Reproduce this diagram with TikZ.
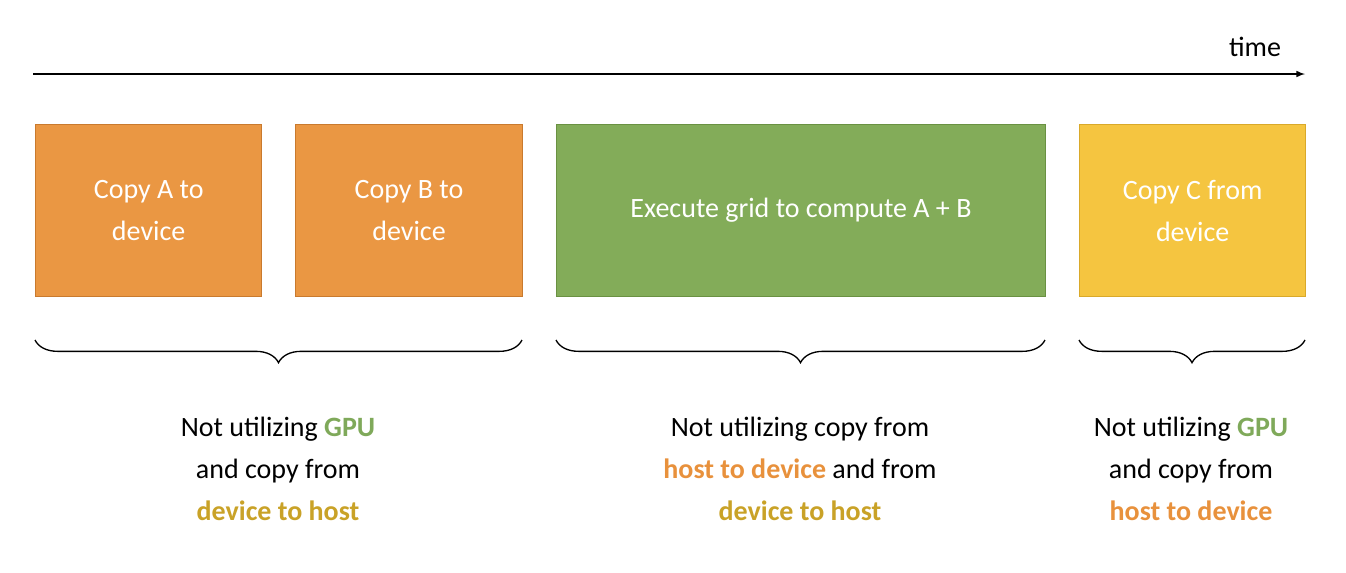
\documentclass[tikz,border=0pt]{standalone}
\usepackage{fontspec}
\setmainfont{Carlito}
\usetikzlibrary{decorations.pathreplacing}
\definecolor{orb}{HTML}{EA9743}
\definecolor{orbd}{HTML}{C97A2E}
\definecolor{grb}{HTML}{83AC59}
\definecolor{grbd}{HTML}{6A9142}
\definecolor{yeb}{HTML}{F5C540}
\definecolor{yebd}{HTML}{D9A92A}
\definecolor{tgreen}{HTML}{7FA95A}
\definecolor{torange}{HTML}{E8913C}
\definecolor{tyellow}{HTML}{C9A227}
\begin{document}
\begin{tikzpicture}[x=0.75pt,y=-0.75pt,
  box/.style={draw=#1,line width=1pt,text=white,font=\fontsize{21}{31.5}\selectfont,align=center,anchor=north west},
  lbl/.style={font=\fontsize{21}{31.5}\selectfont,align=center,anchor=north},
  br/.style={decorate,decoration={brace,mirror,amplitude=17pt,aspect=0.5},line width=1pt}]
\useasboundingbox (0,0) rectangle (1346,572);
\coordinate (t0) at (33,74);
\coordinate (t1) at (1305,74);
\draw[-latex,line width=1.2pt] (t0) -- (t1);
\node[font=\fontsize{21}{25}\selectfont,anchor=base] (time) at (1255,56) {time};
\node[box=orbd,fill=orb,minimum width=169.5pt,minimum height=129pt] (a) at (35,124) {Copy A to\\device};
\node[box=orbd,fill=orb,minimum width=170pt,minimum height=129pt] (b) at (295,124) {Copy B to\\device};
\node[box=grbd,fill=grb,minimum width=366.5pt,minimum height=129pt] (e) at (556,124) {Execute grid to compute A + B};
\node[box=yebd,fill=yeb,minimum width=169.5pt,minimum height=129pt] (c) at (1079,124) {Copy C from\\device};
\coordinate (b1s) at (35,340); \coordinate (b1e) at (522,340);
\coordinate (b2s) at (556,340); \coordinate (b2e) at (1045,340);
\coordinate (b3s) at (1079,340); \coordinate (b3e) at (1305,340);
\draw[br] (b1s) -- (b1e);
\draw[br] (b2s) -- (b2e);
\draw[br] (b3s) -- (b3e);
\node[lbl] (l1) at (278,412) {Not utilizing \textbf{\textcolor{tgreen}{GPU}}\\and copy from\\\textbf{\textcolor{tyellow}{device to host}}};
\node[lbl] (l2) at (800,412) {Not utilizing copy from\\\textbf{\textcolor{torange}{host to device}} and from\\\textbf{\textcolor{tyellow}{device to host}}};
\node[lbl] (l3) at (1191,412) {Not utilizing \textbf{\textcolor{tgreen}{GPU}}\\and copy from\\\textbf{\textcolor{torange}{host to device}}};
\end{tikzpicture}
\end{document}
